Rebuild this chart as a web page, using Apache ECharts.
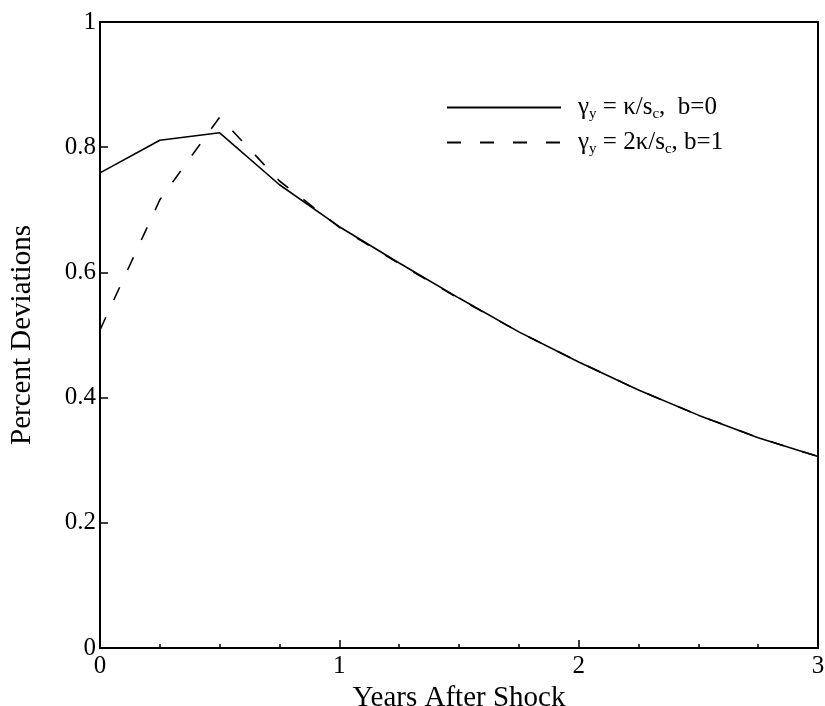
<!DOCTYPE html>
<html>
<head>
<meta charset="utf-8">
<script src="https://cdn.jsdelivr.net/npm/echarts@6/dist/echarts.min.js"></script>
<style>html,body{margin:0;padding:0;background:#fff;}#chart{width:825px;height:706px;}</style>
</head>
<body>
<div id="chart"></div>
<script>
// Data
var years = [0, 0.25, 0.5, 0.75, 1, 1.25, 1.5, 1.75, 2, 2.25, 2.5, 2.75, 3];
var solidValues = [0.759, 0.811, 0.823, 0.740, 0.673, 0.615, 0.559, 0.505, 0.457, 0.412, 0.372, 0.336, 0.306];
var dashedValues = [0.508, 0.716, 0.848, 0.746, 0.672, 0.614, 0.558, 0.505, 0.457, 0.412, 0.372, 0.336, 0.306];
var seriesNames = ['γy = κ/sc, b=0', 'γy = 2κ/sc, b=1'];
var legendRich = ['{n|γ}{s|y}{n| = κ/s}{s|c}{n|,  b=0}', '{n|γ}{s|y}{n| = 2κ/s}{s|c}{n|, b=1}'];
var xTicks = [0, 1, 2, 3];
var yTicks = [0, 0.2, 0.4, 0.6, 0.8, 1];

var FONT = 'Liberation Serif';
function pairs(xs, ys) { return xs.map(function (x, i) { return [x, ys[i]]; }); }

var chart = echarts.init(document.getElementById('chart'));
chart.setOption({
  backgroundColor: '#fff',
  animation: false,
  grid: {
    left: 100, right: 7, top: 22, bottom: 58,
    outerBoundsMode: 'none', containLabel: false,
    show: true, borderColor: '#000', borderWidth: 2, backgroundColor: 'transparent'
  },
  legend: {
    orient: 'vertical',
    left: 441,
    top: 90,
    itemWidth: 114,
    itemHeight: 14,
    itemGap: 8,
    data: seriesNames,
    itemStyle: { opacity: 0, borderWidth: 0 },
    formatter: function (name) { return legendRich[seriesNames.indexOf(name)]; },
    textStyle: {
      fontFamily: FONT, fontSize: 25, color: '#000', padding: [0, 0, 0, 12],
      rich: {
        n: { fontFamily: FONT, fontSize: 25, color: '#000', lineHeight: 29 },
        s: { fontFamily: FONT, fontSize: 15, color: '#000', lineHeight: 9, verticalAlign: 'bottom' }
      }
    }
  },
  xAxis: {
    type: 'value',
    min: xTicks[0], max: xTicks[xTicks.length - 1], interval: 1,
    name: 'Years After Shock',
    nameLocation: 'middle',
    nameGap: 29,
    nameTextStyle: { fontFamily: FONT, fontSize: 29, color: '#000' },
    axisLine: { show: true, lineStyle: { color: '#000', width: 2 } },
    axisTick: { show: true, inside: true, length: 8, lineStyle: { color: '#000', width: 1.5 } },
    minorTick: { show: true, splitNumber: 4, length: 4, lineStyle: { color: '#000', width: 1.5 } },
    axisLabel: { fontFamily: FONT, fontSize: 25, color: '#000', margin: 6 },
    splitLine: { show: false }
  },
  yAxis: {
    type: 'value',
    min: yTicks[0], max: yTicks[yTicks.length - 1], interval: 0.2,
    name: 'Percent Deviations',
    nameLocation: 'middle',
    nameGap: 63,
    nameTextStyle: { fontFamily: FONT, fontSize: 29, color: '#000' },
    axisLine: { show: true, lineStyle: { color: '#000', width: 2 } },
    axisTick: { show: true, inside: true, length: 8, lineStyle: { color: '#000', width: 1.5 } },
    axisLabel: { fontFamily: FONT, fontSize: 25, color: '#000', margin: 4 },
    splitLine: { show: false }
  },
  series: [
    {
      name: seriesNames[0], type: 'line', data: pairs(years, solidValues),
      symbol: 'none', lineStyle: { color: '#000', width: 1.6, type: 'solid' }, itemStyle: { color: '#000' }
    },
    {
      name: seriesNames[1], type: 'line', data: pairs(years, dashedValues),
      symbol: 'none', lineStyle: { color: '#000', width: 1.6, type: [14, 19] }, itemStyle: { color: '#000' }
    }
  ]
});
</script>
</body>
</html>
